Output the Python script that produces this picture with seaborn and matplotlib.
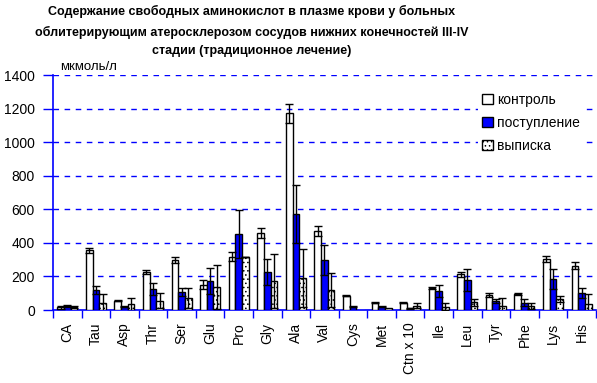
import numpy as np
import pandas as pd
import matplotlib
matplotlib.use("Agg")
import matplotlib.pyplot as plt
import seaborn as sns

categories = ['CA', 'Tau', 'Asp', 'Thr', 'Ser', 'Glu', 'Pro', 'Gly', 'Ala', 'Val',
              'Cys', 'Met', 'Ctn x 10', 'Ile', 'Leu', 'Tyr', 'Phe', 'Lys', 'His']
series_names = ['контроль', 'поступление', 'выписка']
control = [16, 357, 56, 226, 298, 151, 318, 457, 1171, 469, 85, 43, 43, 133, 212, 87, 95, 302, 264]
control_err = [8, 15, 5, 10, 16, 26, 26, 30, 54, 29, 4, 4, 3, 6, 14, 12, 5, 18, 20]
admission = [22, 119, 20, 125, 105, 173, 453, 224, 570, 296, 20, 20, 10, 113, 177, 52, 44, 183, 99]
admission_err = [6, 24, 5, 34, 24, 75, 143, 78, 173, 89, 3, 3, 3, 34, 65, 13, 19, 59, 30]
discharge = [18, 40, 34, 54, 71, 135, 318, 173, 189, 119, np.nan, 10, 26, 20, 46, 26, 26, 65, 34]
discharge_err = [8, 53, 40, 45, 58, 131, 0, 159, 172, 99, np.nan, 14, 19, 20, 47, 18, 18, 64, 26]
yticks = [0, 200, 400, 600, 800, 1000, 1200, 1400]

plt.rcParams['font.family'] = ['Liberation Sans', 'DejaVu Sans']
plt.rcParams['hatch.color'] = 'black'
plt.rcParams['hatch.linewidth'] = 0.6

values = [control, admission, discharge]
errors = [control_err, admission_err, discharge_err]
rows = []
for name, vals in zip(series_names, values):
    for c, v in zip(categories, vals):
        rows.append({'cat': c, 'series': name, 'value': v})
df = pd.DataFrame(rows)

fig = plt.figure(figsize=(5.97, 3.83), dpi=100)
ax = fig.add_axes([53 / 597, 1 - 310 / 383, 1 - 53 / 597 - 0.002, (310 - 75) / 383])

blue = '#0000ff'
sns.barplot(data=df, x='cat', y='value', hue='series', order=categories,
            hue_order=series_names, palette=['white', blue, 'white'],
            edgecolor='black', linewidth=1.0, width=0.7, gap=0,
            errorbar=None, ax=ax, zorder=3, saturation=1)

bar_containers = list(ax.containers)
for ci, cont in enumerate(bar_containers):
    xs, ys, es = [], [], []
    for bar, err in zip(cont.patches, errors[ci]):
        h = bar.get_height()
        if ci == 2:
            bar.set_hatch('....')
        if not np.isfinite(h) or not np.isfinite(err):
            continue
        xs.append(bar.get_x() + bar.get_width() / 2)
        ys.append(h)
        es.append(err)
    ax.errorbar(xs, ys, yerr=es, fmt='none', ecolor='black', elinewidth=1.0,
                capsize=2.6, capthick=1.0, zorder=4)

ax.set_ylim(0, 1400)
ax.set_xlim(-0.5, len(categories) - 0.5)
ax.set_yticks(yticks)
ax.set_yticklabels([str(t) for t in yticks], fontsize=10)
ax.yaxis.grid(True, color=blue, linestyle=(0, (4, 4)), linewidth=1.0)
ax.set_axisbelow(True)
ax.set_xticks(range(len(categories)))
ax.set_xticklabels(categories, rotation=90, fontsize=10)
ax.set_xticks(np.arange(-0.5, len(categories), 1.0), minor=True)
ax.tick_params(axis='x', which='major', length=0, pad=9)
ax.tick_params(axis='x', which='minor', length=6, color=blue, width=1)
ax.tick_params(axis='y', length=7, color=blue, width=1, pad=6)
ax.set_xlabel('')
ax.set_ylabel('')
for s in ['top', 'right']:
    ax.spines[s].set_visible(False)
for s in ['left', 'bottom']:
    ax.spines[s].set_color(blue)
    ax.spines[s].set_linewidth(1.2)

leg = ax.legend(loc='upper left', bbox_to_anchor=((472 - 53) / 544, (310 - 82) / 235),
                bbox_transform=ax.transAxes, fontsize=10, frameon=True,
                handlelength=0.75, handleheight=0.75, handletextpad=0.3,
                labelspacing=0.65, borderpad=0.3, fancybox=False)
leg.get_frame().set_edgecolor('none')
leg.get_frame().set_facecolor('white')
leg.get_frame().set_alpha(1)
leg.set_zorder(5)
for h in leg.legend_handles:
    h.set_edgecolor('black')
    h.set_linewidth(1.0)
leg.legend_handles[2].set_hatch('....')

fig.text(252 / 597, 1 - 5 / 383,
         'Содержание свободных аминокислот в плазме крови у больных\n'
         'облитерирующим атеросклерозом сосудов нижних конечностей III-IV\n'
         'стадии (традиционное лечение)',
         ha='center', va='top', fontsize=9, fontweight='bold', linespacing=1.75)
fig.text(60 / 597, 1 - 67 / 383, 'мкмоль/л', ha='left', va='center', fontsize=9.5)

fig.savefig('out.png', dpi=100)
